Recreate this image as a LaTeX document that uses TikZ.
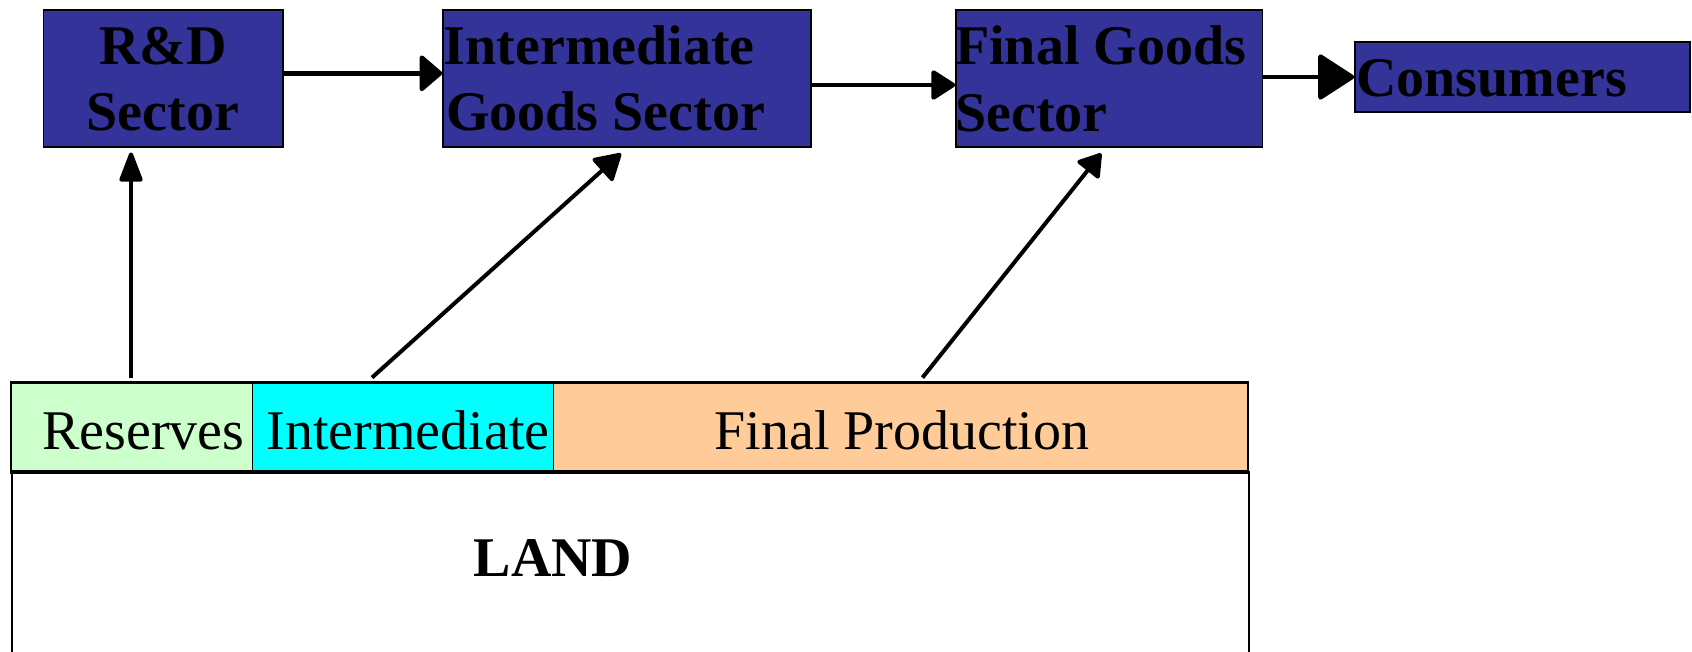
\documentclass[tikz,border=0pt]{standalone}
\usepackage{fontspec}
\setmainfont{Liberation Serif}
\usetikzlibrary{arrows.meta}
\definecolor{sectorblue}{HTML}{333399}
\definecolor{reservegreen}{HTML}{CCFFCC}
\definecolor{midcyan}{HTML}{00FFFF}
\definecolor{finalpeach}{HTML}{FFCC99}
\begin{document}
\begin{tikzpicture}[x=1pt,y=-1pt,
  sector/.style={draw=black, line width=1.5pt, fill=sectorblue, inner sep=0pt, minimum height=137pt},
  boldtext/.style={font=\fontsize{56}{66}\selectfont\bfseries, inner sep=0pt},
  plaintext/.style={font=\fontsize{56}{66}\selectfont, inner sep=0pt},
  cell/.style={draw=black, line width=1.5pt, inner sep=0pt, minimum height=87.7pt},
  flow/.style={line width=4.5pt},
  rise/.style={line width=4pt},
]
\useasboundingbox (0,0) rectangle (1692,652);

% sector boxes
\node[sector, minimum width=239.6pt] (rd) at (163.2,78.5) {};
\node[sector, minimum width=368pt] (ig) at (627,78.5) {};
\node[sector, minimum width=306.5pt] (fg) at (1109.2,78.5) {};
\node[sector, minimum width=335pt, minimum height=70pt] (cons) at (1522.5,77) {};

\node[boldtext, anchor=base] (rdA) at (163,65) {R\&D};
\node[boldtext, anchor=base] (rdB) at (163,130.7) {Sector};
\node[boldtext, anchor=base west] (igA) at (443.5,65) {Intermediate};
\node[boldtext, anchor=base west] (igB) at (446,130.7) {Goods Sector};
\node[boldtext, anchor=base west] (fgA) at (955,65) {Final Goods};
\node[boldtext, anchor=base west] (fgB) at (955,131.5) {Sector};
\node[boldtext, anchor=base west] (consA) at (1356,96.7) {Consumers};

% land allocation table
\node[draw=black, line width=1.5pt, minimum width=1237pt, minimum height=200pt,
      anchor=north west, inner sep=0pt] (land) at (11,471) {};
\node[cell, fill=reservegreen, minimum width=241.4pt] (res) at (131.7,427.2) {};
\node[cell, fill=midcyan, minimum width=301pt] (mid) at (402.9,427.2) {};
\node[cell, fill=finalpeach, minimum width=694.6pt] (fin) at (900.7,427.2) {};
\draw[line width=2.5pt] (res.north west) -- (fin.north east);
\draw[line width=3.5pt] (res.south west) -- (fin.south east);

\node[plaintext, anchor=base] (resT) at (143.5,449) {Reserves};
\node[plaintext, anchor=base] (midT) at (408,449) {Intermediate};
\node[plaintext, anchor=base] (finT) at (902,449) {Final Production};
\node[boldtext, anchor=base] (landT) at (553,576.7) {LAND};

% flows between sectors
\draw[flow, -{Triangle[length=24pt,width=40pt,round]}]
  ([yshift=5.2pt]rd.east) -- ([yshift=5.2pt]ig.west);
\draw[flow, -{Triangle[length=26pt,width=32pt,round]}]
  ([yshift=-6.5pt]ig.east) -- ([yshift=-6.5pt]fg.west);
\draw[flow, -{Triangle[length=38pt,width=48pt,round]}]
  (fg.east |- cons.west) -- (cons.west);

% land flowing up to the sectors
\coordinate (s1) at (131,377.6);
\coordinate (s2) at (372,377.6);
\coordinate (s3) at (922.5,377.6);
\draw[rise, -{Triangle[length=33pt,width=24pt,round]}, shorten >=4.7pt]
  (s1) -- (s1 |- rd.south);
\draw[rise, -{Triangle[length=28pt,width=32pt,round]}]
  (s2) -- ([xshift=-6pt,yshift=-5.7pt]ig.south);
\draw[rise, -{Triangle[length=24pt,width=30pt,round]}]
  (s3) -- ([xshift=-8pt,yshift=-5.7pt]fg.south);
\end{tikzpicture}
\end{document}
